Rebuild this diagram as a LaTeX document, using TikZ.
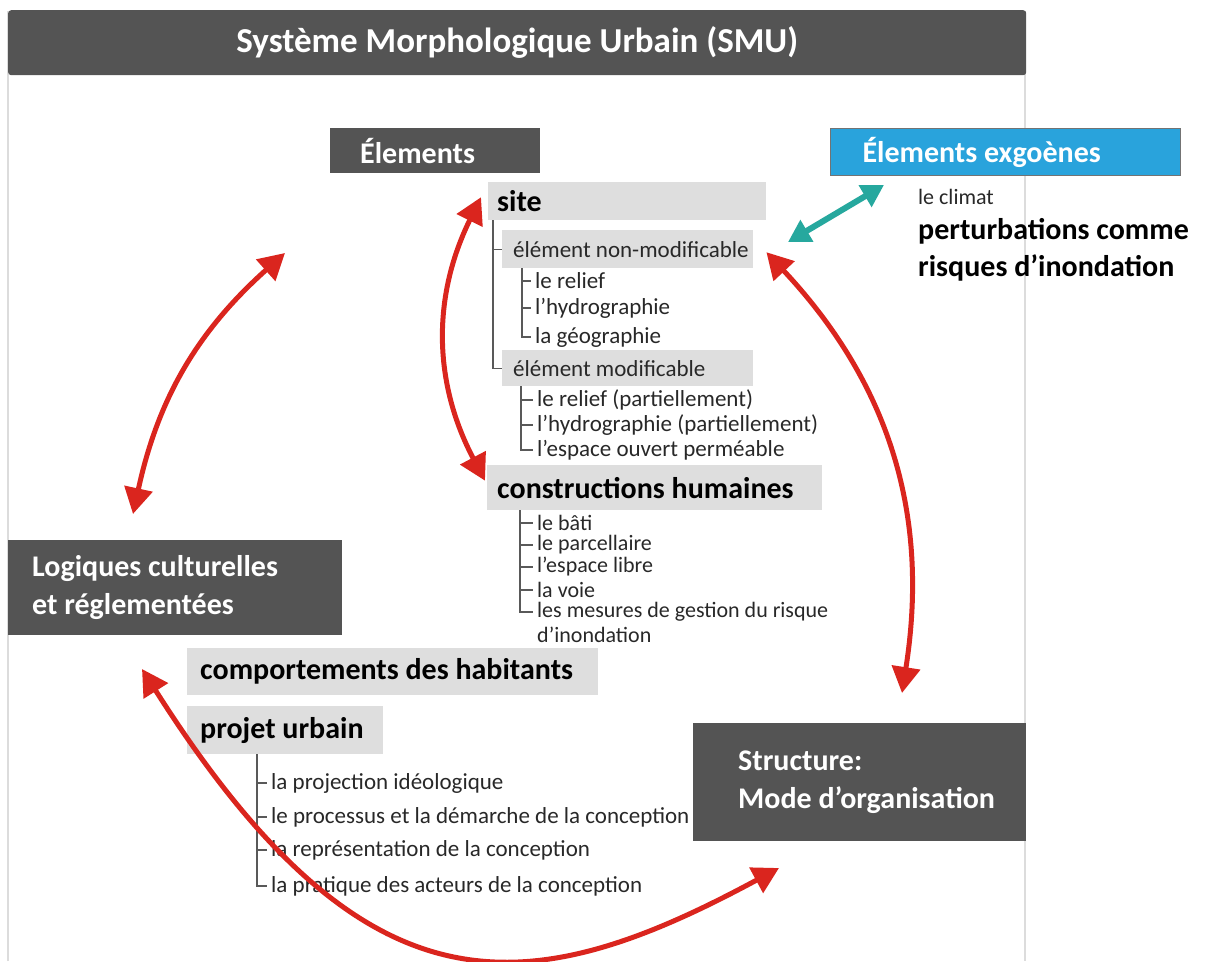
\documentclass[tikz,border=0pt]{standalone}
\usepackage{fontspec}
\setmainfont{Carlito}
\usetikzlibrary{arrows.meta}

\definecolor{boxdark}{RGB}{84,84,84}
\definecolor{boxlight}{RGB}{222,222,222}
\definecolor{exoblue}{RGB}{41,163,220}
\definecolor{arcred}{RGB}{218,37,30}
\definecolor{tealarrow}{RGB}{38,168,158}
\definecolor{framegray}{RGB}{220,220,220}
\definecolor{itemtext}{RGB}{40,40,40}

\begin{document}
\begin{tikzpicture}[x=1pt, y=-1pt,
    padl/.style = {inner xsep=0pt, execute at begin node={\spaceskip=0pt\xspaceskip=0pt\leftskip=#1\relax}},
    darkbox/.style = {fill=boxdark, text=white, anchor=north west, align=left, font=\bfseries\fontsize{30}{38}\selectfont},
    greybox/.style = {fill=boxlight, text=black, anchor=north west, align=left, font=\bfseries\fontsize{30}{36}\selectfont},
    subbox/.style = {fill=boxlight, text=itemtext, anchor=north west, align=left, font=\fontsize{23}{26}\selectfont},
    item/.style = {anchor=west, inner xsep=4pt, inner ysep=0pt, text=itemtext, align=left, font=\fontsize{23}{25}\selectfont},
    smallitem/.style = {item, font=\fontsize{22}{25}\selectfont},
    treeline/.style = {draw=black!65, line width=1.2pt},
    redarc/.style = {draw=arcred, line width=5pt, >={Triangle[length=26pt,width=28pt]}, <->},
    tealarc/.style = {draw=tealarrow, line width=6pt, >={Triangle[length=22pt,width=24pt]}, <->}]

    \useasboundingbox (0,0) rectangle (1207,961);

    % cadre
    \draw[framegray, line width=2pt] (8,961) -- (8,12) -- (1025,12) -- (1025,961);
    \node[fill=boxdark, rounded corners=3pt, anchor=north west, minimum width=1018pt, minimum height=65pt,
          text=white, font=\bfseries\fontsize{35}{38}\selectfont] (titre) at (8,10) {Système Morphologique Urbain (SMU)};

    % boites
    \node[darkbox, padl=30pt, text width=210pt, minimum height=45pt] (elem) at (330,128) {Élements};
    \node[darkbox, fill=exoblue, draw=black!55, line width=1pt, padl=32pt, text width=350pt, minimum height=47pt] (exo) at (830,128) {Élements exgoènes};
    \node[greybox, padl=9pt, text width=278pt, minimum height=38pt] (site) at (488,182) {site};
    \node[subbox, padl=11pt, text width=251pt, minimum height=38pt] (nonmod) at (502,230) {élément non-modificable};
    \node[subbox, padl=11pt, text width=251pt, minimum height=36pt] (modif) at (502,350) {élément modificable};
    \node[greybox, padl=10pt, text width=335pt, minimum height=45pt] (constr) at (487,465) {constructions humaines};
    \node[darkbox, padl=24pt, text width=334pt, minimum height=95pt] (logiques) at (8,540) {Logiques culturelles\\et réglementées};
    \node[greybox, padl=13pt, text width=411pt, minimum height=47pt] (comport) at (187,648) {comportements des habitants};
    \node[greybox, padl=13pt, text width=196pt, minimum height=48pt] (projet) at (187,706) {projet urbain};
    \node[darkbox, padl=45pt, text width=333pt, minimum height=118pt] (struct) at (693,723) {Structure:\\Mode d'organisation};

    % elements exogenes
    \node[anchor=west, inner sep=0pt, text=itemtext, font=\fontsize{22}{24}\selectfont] (climat) at (918,197) {le climat};
    \node[anchor=north west, inner sep=0pt, align=left, font=\bfseries\fontsize{30}{37}\selectfont] (perturb) at (918,218) {perturbations comme\\risques d'inondation};

    % listes
    \node[item] (relief1) at (531,281) {le relief};
    \node[item] (hydro1) at (531,308) {l'hydrographie};
    \node[item] (geo1) at (531,337) {la géographie};
    \node[item] (relief2) at (533,400) {le relief (partiellement)};
    \node[item] (hydro2) at (533,425) {l'hydrographie (partiellement)};
    \node[item] (espouv) at (533,450) {l'espace ouvert perméable};
    \node[smallitem] (bati) at (533,523) {le bâti};
    \node[smallitem] (parcel) at (533,545) {le parcellaire};
    \node[smallitem] (esplib) at (533,567) {l'espace libre};
    \node[smallitem] (voie) at (533,590) {la voie};
    \node[smallitem, anchor=north west] (mesures) at (533,602) {les mesures de gestion du risque\\d'inondation};
    \node[item] (proj) at (267,783) {la projection idéologique};
    \node[item] (proc) at (267,817) {le processus et la démarche de la conception};
    \node[item] (repr) at (267,850) {la représentation de la conception};
    \node[item] (prat) at (267,886) {la pratique des acteurs de la conception};

    % arborescence
    \draw[treeline] ([xshift=5pt]site.south west) |- (nonmod.west);
    \draw[treeline] ([xshift=5pt]site.south west) |- (modif.west);
    \foreach \c in {relief1,hydro1,geo1}
        \draw[treeline] ([xshift=20pt]nonmod.south west) |- (\c.west);
    \foreach \c in {relief2,hydro2,espouv}
        \draw[treeline] ([xshift=19pt]modif.south west) |- (\c.west);
    \foreach \c in {bati,parcel,esplib,voie}
        \draw[treeline] ([xshift=33pt]constr.south west) |- (\c.west);
    \draw[treeline] ([xshift=33pt]constr.south west) |- ([yshift=-10pt]mesures.north west);
    \foreach \c in {proj,proc,repr,prat}
        \draw[treeline] ([xshift=70pt]projet.south west) |- (\c.west);

    % fleches
    \coordinate (arcA1) at (285,253);
    \coordinate (arcA2) at (133,514);
    \coordinate (arcC2) at (902,693);
    \coordinate (arcD1) at (142,669);
    \coordinate (arcD2) at (779,868);
    \coordinate (tealA) at (788,242);
    \coordinate (tealB) at (884,185);

    \draw[redarc] (arcA1) to[bend right=18] (arcA2);
    \draw[redarc] ([xshift=-7pt,yshift=4pt]site.west) to[bend right=27] ([xshift=-2pt,yshift=7pt]constr.west);
    \draw[redarc] ([xshift=13pt,yshift=-3pt]nonmod.east) to[bend left=26] (arcC2);
    \draw[redarc] (arcD1) .. controls (366,1022) and (527,1004) .. (arcD2);
    \draw[tealarc] (tealA) -- (tealB);

\end{tikzpicture}
\end{document}
